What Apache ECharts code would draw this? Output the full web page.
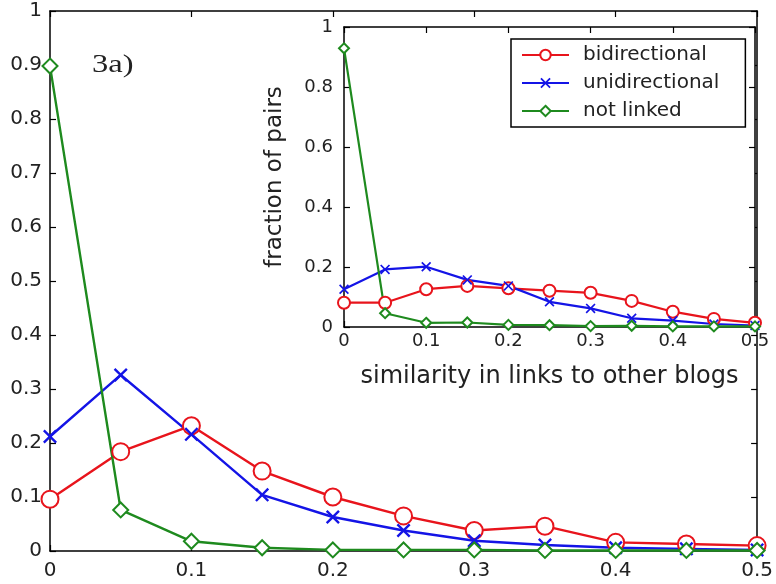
<!DOCTYPE html>
<html>
<head>
<meta charset="utf-8">
<style>
  html, body { margin: 0; padding: 0; background: #fff; }
  #chart { width: 776px; height: 584px; }
</style>
<script src="https://cdn.jsdelivr.net/npm/echarts@6/dist/echarts.min.js"></script>
</head>
<body>
<div id="chart"></div>
<script>
// similarity bins shared by both panels
const similarity = [0, 0.05, 0.1, 0.15, 0.2, 0.25, 0.3, 0.35, 0.4, 0.45, 0.5];

// main panel (3a)
const mainBidirectional = [0.096, 0.184, 0.232, 0.148, 0.100, 0.065, 0.038, 0.046, 0.016, 0.013, 0.010];
const mainUnidirectional = [0.212, 0.326, 0.216, 0.104, 0.063, 0.038, 0.019, 0.011, 0.006, 0.004, 0.002];
const mainNotLinked = [0.898, 0.076, 0.018, 0.006, 0.002, 0.002, 0.002, 0.001, 0.001, 0.001, 0.001];

// inset panel
const insetBidirectional = [0.081, 0.081, 0.126, 0.137, 0.129, 0.121, 0.114, 0.087, 0.051, 0.027, 0.014];
const insetUnidirectional = [0.126, 0.192, 0.201, 0.157, 0.137, 0.084, 0.062, 0.029, 0.021, 0.010, 0.005];
const insetNotLinked = [0.929, 0.046, 0.014, 0.015, 0.007, 0.006, 0.003, 0.004, 0.002, 0.002, 0.002];

const seriesNames = ['bidirectional', 'unidirectional', 'not linked'];
const colors = ['#e8141c', '#1414e6', '#1e8a1e'];

const xSymbol = 'path://M0,1.2L1.2,0L5,3.8L8.8,0L10,1.2L6.2,5L10,8.8L8.8,10L5,6.2L1.2,10L0,8.8L3.8,5Z';
const symbols = ['emptyCircle', xSymbol, 'emptyDiamond'];

const pairs = values => values.map((v, i) => [similarity[i], v]);

function makeSeries(values, idx, gridIdx, big) {
  const sizes = big ? [17, 14, 15] : [12, 10, 10];
  return {
    name: seriesNames[idx],
    type: 'line',
    xAxisIndex: gridIdx * 2,
    yAxisIndex: gridIdx * 2,
    data: pairs(values),
    symbol: symbols[idx],
    symbolSize: sizes[idx],
    showAllSymbol: true,
    color: colors[idx],
    lineStyle: { color: colors[idx], width: big ? 2.4 : 2.2 },
    itemStyle: {
      color: colors[idx],
      borderColor: colors[idx],
      borderWidth: idx === 1 ? 0 : 2.2
    },
    animation: false,
    z: 3 + gridIdx * 5
  };
}

// MATLAB-style boxed axes: labelled bottom/left plus bare top/right with inward ticks
function boxAxes(gridIdx, interval, min, max, labelSize, margin, isX) {
  const base = {
    type: 'value',
    gridIndex: gridIdx,
    min: min,
    max: max,
    interval: interval,
    splitLine: { show: false },
    axisLine: { show: true, onZero: false, lineStyle: { color: '#000', width: 1.5 } },
    axisTick: { show: true, inside: true, length: 6, lineStyle: { color: '#000', width: 1.2 } }
  };
  const main = Object.assign({}, base, {
    position: isX ? 'bottom' : 'left',
    axisLabel: {
      show: true,
      margin: margin,
      fontFamily: 'DejaVu Sans',
      fontSize: labelSize,
      color: '#222',
      formatter: v => (Math.round(v * 100) / 100).toString()
    }
  });
  const opposite = Object.assign({}, base, {
    position: isX ? 'top' : 'right',
    axisLabel: { show: false }
  });
  return [main, opposite];
}

const mainX = boxAxes(0, 0.1, 0, 0.5, 20, 10, true);
const mainY = boxAxes(0, 0.1, 0, 1, 20, 8, false);
const insetX = boxAxes(1, 0.1, 0, 0.5, 18, 5, true);
const insetY = boxAxes(1, 0.2, 0, 1, 18, 11, false);

insetX[0].name = 'similarity in links to other blogs';
insetX[0].nameLocation = 'middle';
insetX[0].nameGap = 38;
insetX[0].nameTextStyle = { fontFamily: 'DejaVu Sans', fontSize: 24, color: '#222' };

insetY[0].name = 'fraction of pairs';
insetY[0].nameLocation = 'middle';
insetY[0].nameGap = 57;
insetY[0].nameTextStyle = { fontFamily: 'DejaVu Sans', fontSize: 23, color: '#222' };

const chart = echarts.init(document.getElementById('chart'), null, { renderer: 'canvas' });

chart.setOption({
  backgroundColor: '#fff',
  animation: false,
  grid: [
    { left: 50, right: 14, top: 11, bottom: 33, show: false },
    { left: 344, right: 21, top: 27, bottom: 257, show: true, backgroundColor: '#fff', borderWidth: 0, z: 5 }
  ],
  xAxis: [mainX[0], mainX[1], insetX[0], insetX[1]].map((a, i) => Object.assign(a, { z: i < 2 ? 2 : 8 })),
  yAxis: [mainY[0], mainY[1], insetY[0], insetY[1]].map((a, i) => Object.assign(a, { z: i < 2 ? 2 : 8 })),
  legend: {
    data: seriesNames,
    orient: 'vertical',
    left: 511,
    top: 39,
    padding: [6, 26, 6, 10],
    itemGap: 8,
    itemWidth: 47,
    itemHeight: 13,
    backgroundColor: '#fff',
    borderColor: '#000',
    borderWidth: 1.5,
    borderRadius: 0,
    textStyle: { fontFamily: 'DejaVu Sans', fontSize: 20, color: '#222', padding: [0, 0, 0, 9], lineHeight: 20 },
    z: 20
  },
  graphic: [
    {
      type: 'text',
      left: 92,
      top: 52,
      scaleX: 1.25,
      style: { text: '3a)', font: '26px "Liberation Serif"', fill: '#222' }
    }
  ],
  series: [
    makeSeries(insetBidirectional, 0, 1, false),
    makeSeries(insetUnidirectional, 1, 1, false),
    makeSeries(insetNotLinked, 2, 1, false),
    makeSeries(mainBidirectional, 0, 0, true),
    makeSeries(mainUnidirectional, 1, 0, true),
    makeSeries(mainNotLinked, 2, 0, true)
  ]
});
</script>
</body>
</html>
